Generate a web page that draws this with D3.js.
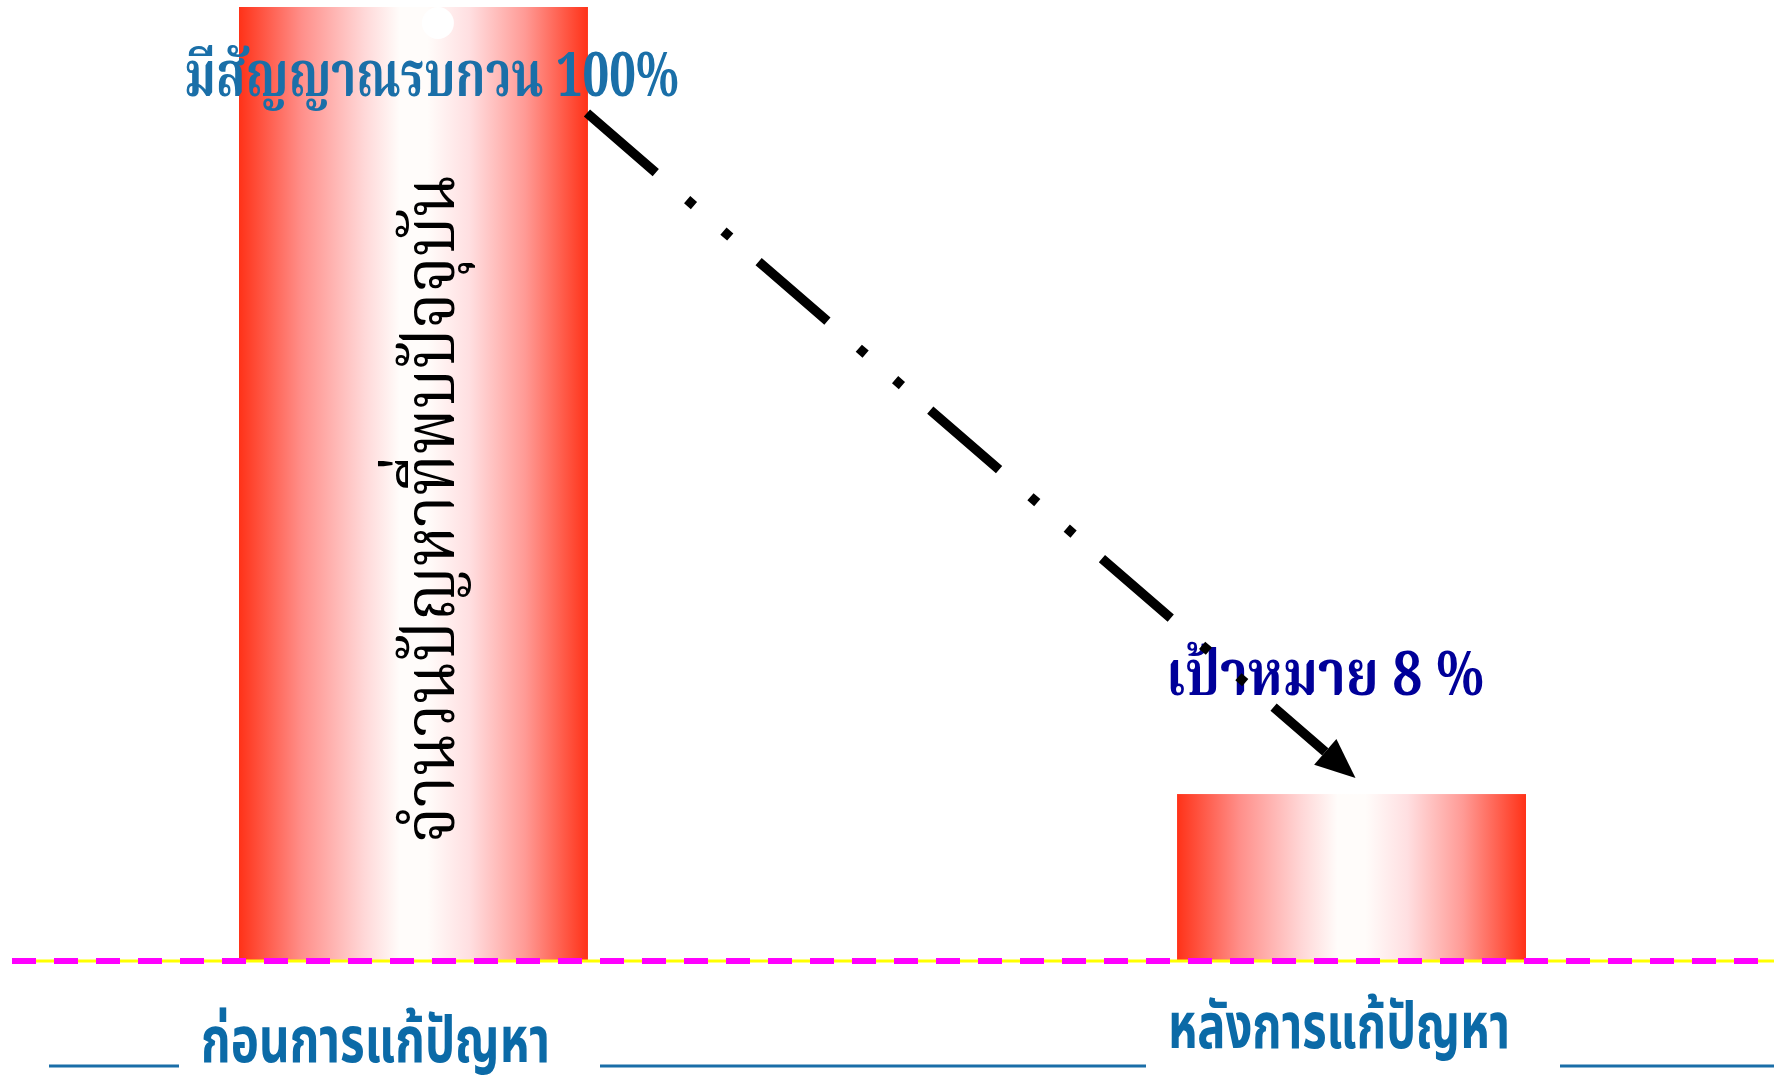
<!DOCTYPE html>
<html>
<head>
<meta charset="utf-8">
<script src="https://cdn.jsdelivr.net/npm/d3@7"></script>
<style>
  html, body { margin: 0; padding: 0; background: #fff; }
  svg { display: block; }
</style>
</head>
<body>
<svg id="chart"></svg>
<script>
const categories = ['ก่อนการแก้ปัญหา', 'หลังการแก้ปัญหา'];
const values = [100, 17.5];
const barText = 'จำนวนปัญหาที่พบปัจจุบัน';
const startLabel = 'มีสัญญาณรบกวน 100%';
const targetLabel = 'เป้าหมาย 8 %';

const width = 1774, height = 1076;
const serifThai = "'Angsana New','TH Sarabun New','Noto Serif Thai','Tlwg Typo','Loma','Norasi',serif";
const sansThai = "'Cordia New','Browallia New','TH Sarabun New','Noto Sans Thai','Loma','Garuda',sans-serif";

const svg = d3.select('#chart').attr('width', width).attr('height', height);

const x = d3.scaleBand()
    .domain(categories)
    .range([239, 1526])
    .paddingInner(0.628)
    .paddingOuter(0);

const y = d3.scaleLinear()
    .domain([0, 100])
    .range([961, 7]);

// bar fill: red edges fading to white in the middle
const defs = svg.append('defs');
const grad = defs.append('linearGradient')
    .attr('id', 'barFill')
    .attr('x1', '0%').attr('x2', '100%')
    .attr('y1', '0%').attr('y2', '0%');
[[0, '#ff3218'], [0.18, '#ff8f8a'], [0.36, '#ffd8d8'], [0.46, '#fffcfa'], [0.54, '#fffcfa'],
 [0.66, '#ffdfe1'], [0.82, '#ff9a95'], [1, '#ff3218']]
  .forEach(([o, c]) => grad.append('stop').attr('offset', o).attr('stop-color', c));

svg.selectAll('rect.bar')
    .data(categories)
    .enter()
    .append('rect')
    .classed('bar', true)
    .attr('x', (d) => x(d))
    .attr('y', (d, i) => y(values[i]))
    .attr('width', x.bandwidth())
    .attr('height', (d, i) => y(0) - y(values[i]))
    .attr('fill', 'url(#barFill)');

// small white highlight at the top of the tall bar
svg.append('circle')
    .attr('cx', x(categories[0]) + x.bandwidth() * 0.57)
    .attr('cy', y(100) + 16)
    .attr('r', 16)
    .attr('fill', '#fff');

// baseline: thin yellow under a magenta dashed line
svg.append('line')
    .attr('x1', 12).attr('x2', width)
    .attr('y1', y(0)).attr('y2', y(0))
    .style('stroke', '#ffff00')
    .style('stroke-width', 3);
svg.append('line')
    .attr('x1', 12).attr('x2', width)
    .attr('y1', y(0)).attr('y2', y(0))
    .style('stroke', '#ff00ff')
    .style('stroke-width', 6)
    .style('stroke-dasharray', '24 18');

// vertical text inside the tall bar
svg.append('text')
    .text(barText)
    .attr('transform', `translate(${x(categories[0]) + x.bandwidth() * 0.615},509) rotate(-90)`)
    .attr('text-anchor', 'middle')
    .attr('textLength', 668)
    .attr('lengthAdjust', 'spacingAndGlyphs')
    .style('font-family', serifThai)
    .style('font-size', '72px')
    .style('fill', '#000');

// category labels with a broken underline
const labelPos = [{ x: 201, y: 1062, w: 349 }, { x: 1168, y: 1048, w: 342 }];
svg.selectAll('text.cat')
    .data(categories)
    .enter()
    .append('text')
    .classed('cat', true)
    .text((d) => d)
    .attr('x', (d, i) => labelPos[i].x)
    .attr('y', (d, i) => labelPos[i].y)
    .attr('textLength', (d, i) => labelPos[i].w)
    .attr('lengthAdjust', 'spacingAndGlyphs')
    .style('font-family', sansThai)
    .style('font-weight', 'bold')
    .style('font-size', '64px')
    .style('fill', '#0b6aa7');

const gaps = labelPos.map((p) => [p.x - 22, p.x + p.w + 50]);
const segs = [];
let from = 49;
gaps.forEach(([a, b]) => { segs.push([from, a]); from = b; });
segs.push([from, width]);
svg.selectAll('line.under')
    .data(segs)
    .enter()
    .append('line')
    .classed('under', true)
    .attr('x1', (d) => d[0]).attr('x2', (d) => d[1])
    .attr('y1', 1066).attr('y2', 1066)
    .style('stroke', '#1a6ea8')
    .style('stroke-width', 3);

// annotations
svg.append('text')
    .text(startLabel)
    .attr('x', 184).attr('y', 96)
    .attr('textLength', 495)
    .attr('lengthAdjust', 'spacingAndGlyphs')
    .style('font-family', serifThai)
    .style('font-weight', 'bold')
    .style('font-size', '62px')
    .style('fill', '#1a6fa8');

svg.append('text')
    .text(targetLabel)
    .attr('x', 1166).attr('y', 695)
    .attr('textLength', 318)
    .attr('lengthAdjust', 'spacingAndGlyphs')
    .style('font-family', serifThai)
    .style('font-weight', 'bold')
    .style('font-size', '62px')
    .style('fill', '#000099');

// dash-dot-dot arrow from the tall bar to the target bar
const p0 = [x(categories[0]) + x.bandwidth() - 1, y(values[0]) + 106];
const p1 = [x(categories[1]) + x.bandwidth() / 2 + 4, y(values[1]) - 16];
const dx = p1[0] - p0[0], dy = p1[1] - p0[1];
const len = Math.hypot(dx, dy);
const ux = dx / len, uy = dy / len;
const headLen = 40, headHalf = 17;
const base = [p1[0] - ux * headLen, p1[1] - uy * headLen];

svg.append('line')
    .attr('x1', p0[0]).attr('y1', p0[1])
    .attr('x2', base[0]).attr('y2', base[1])
    .style('stroke', '#000')
    .style('stroke-width', 9.5)
    .style('stroke-dasharray', '91 41.5 9 39 9 37.5');

svg.append('path')
    .attr('d', d3.line()([
      p1,
      [base[0] - uy * headHalf, base[1] + ux * headHalf],
      [base[0] + uy * headHalf, base[1] - ux * headHalf]
    ]) + 'Z')
    .attr('fill', '#000');
</script>
</body>
</html>
